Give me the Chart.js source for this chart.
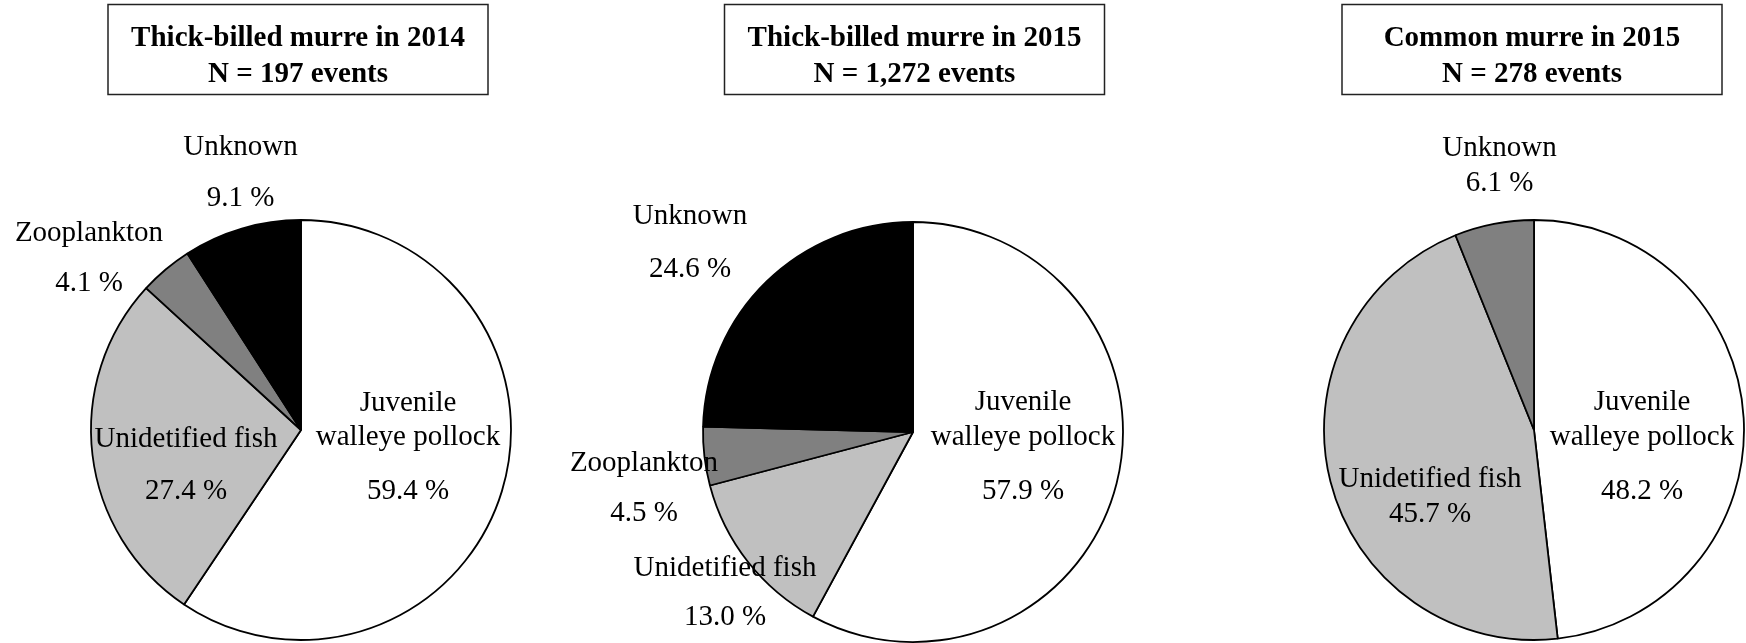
<!DOCTYPE html>
<html>
<head>
<meta charset="utf-8">
<script src="https://cdn.jsdelivr.net/npm/chart.js@4.4.1/dist/chart.umd.min.js"></script>
<style>
  html, body { margin: 0; padding: 0; background: #fff; overflow: hidden; }
  body { width: 1746px; height: 643px; position: relative; }
  canvas { position: absolute; top: 0; }
</style>
</head>
<body>
<canvas id="pie2014" width="602" height="643" style="left:0px"></canvas>
<canvas id="pie2015" width="706" height="643" style="left:560px"></canvas>
<canvas id="pieCommon" width="424" height="643" style="left:1322px"></canvas>
<script>
// Diet composition of murres (% of feeding events)
const preyTypes = [['Juvenile', 'walleye pollock'], 'Unidetified fish', 'Zooplankton', 'Unknown'];
const preyTypesCommon = [['Juvenile', 'walleye pollock'], 'Unidetified fish', 'Unknown'];

const thickBilled2014 = [59.4, 27.4, 4.1, 9.1];
const thickBilled2015 = [57.9, 13.0, 4.5, 24.6];
const common2015 = [48.2, 45.7, 6.1];

const panelTitles = [
  ['Thick-billed murre in 2014', 'N = 197 events'],
  ['Thick-billed murre in 2015', 'N = 1,272 events'],
  ['Common murre in 2015', 'N = 278 events'],
];

const SERIF = "'Liberation Serif', 'Times New Roman', serif";
const FILLS4 = ['#ffffff', '#c0c0c0', '#808080', '#000000'];
const FILLS3 = ['#ffffff', '#c0c0c0', '#808080'];

// label placement relative to the pie centre: x offset, y offset of each line
const labelPos2014 = [
  { dx: 107, dy: [-27, 7.5, 61] },
  { dx: -115, dy: [9.5, 61] },
  { dx: -212, dy: [-196.5, -146.5] },
  { dx: -60.5, dy: [-283, -232] },
];
const labelPos2015 = [
  { dx: 110, dy: [-29.5, 5, 59] },
  { dx: -188, dy: [136, 185] },
  { dx: -269, dy: [31.5, 81.5] },
  { dx: -223, dy: [-216, -163] },
];
const labelPosCommon = [
  { dx: 108, dy: [-27.5, 7, 61] },
  { dx: -104, dy: [49, 84] },
  { dx: -34.5, dy: [-282, -246.5] },
];

// boxed two-line heading at the top of each panel
const titleBoxPlugin = {
  id: 'titleBox',
  afterDraw(chart, args, opts) {
    const ctx = chart.ctx;
    const cx = chart.width / 2 + (opts.shift || 0);
    ctx.save();
    ctx.strokeStyle = '#222';
    ctx.lineWidth = 1.5;
    ctx.strokeRect(cx - 190, 4.5, 380, 90);
    ctx.fillStyle = '#000';
    ctx.font = 'bold 29px ' + SERIF;
    ctx.textAlign = 'center';
    ctx.textBaseline = 'middle';
    opts.lines.forEach((t, i) => ctx.fillText(t, cx, 38.5 + i * 36));
    ctx.restore();
  }
};

// category name + percentage next to each slice
const sliceLabelPlugin = {
  id: 'sliceLabels',
  afterDraw(chart, args, opts) {
    const ctx = chart.ctx;
    const meta = chart.getDatasetMeta(0);
    const values = chart.data.datasets[0].data;
    ctx.save();
    ctx.fillStyle = '#000';
    ctx.font = '29px ' + SERIF;
    ctx.textAlign = 'center';
    ctx.textBaseline = 'middle';
    meta.data.forEach((arc, i) => {
      const name = chart.data.labels[i];
      const lines = [].concat(name, values[i].toFixed(1) + ' %');
      const p = opts.pos[i];
      lines.forEach((t, j) => ctx.fillText(t, arc.x + p.dx, arc.y + p.dy[j]));
    });
    ctx.restore();
  }
};

function renderPie(canvasId, labels, values, fills, title, pos, centreTop, titleShift) {
  const ctx = document.getElementById(canvasId).getContext('2d');
  return new Chart(ctx, {
    type: 'pie',
    data: {
      labels,
      datasets: [{
        data: values,
        backgroundColor: fills,
        borderColor: '#000',
        borderWidth: 1.8,
        radius: 210,
        clip: false,
      }],
    },
    options: {
      responsive: false,
      animation: false,
      events: [],
      layout: { padding: { top: centreTop, bottom: 0, left: 0, right: 0 } },
      plugins: {
        legend: { display: false },
        tooltip: { enabled: false },
        titleBox: { lines: title, shift: titleShift },
        sliceLabels: { pos },
      },
    },
    plugins: [titleBoxPlugin, sliceLabelPlugin],
  });
}

renderPie('pie2014', preyTypes, thickBilled2014, FILLS4, panelTitles[0], labelPos2014, 217, -3);
renderPie('pie2015', preyTypes, thickBilled2015, FILLS4, panelTitles[1], labelPos2015, 221, 1.5);
renderPie('pieCommon', preyTypesCommon, common2015, FILLS3, panelTitles[2], labelPosCommon, 217, -2);
</script>
</body>
</html>
